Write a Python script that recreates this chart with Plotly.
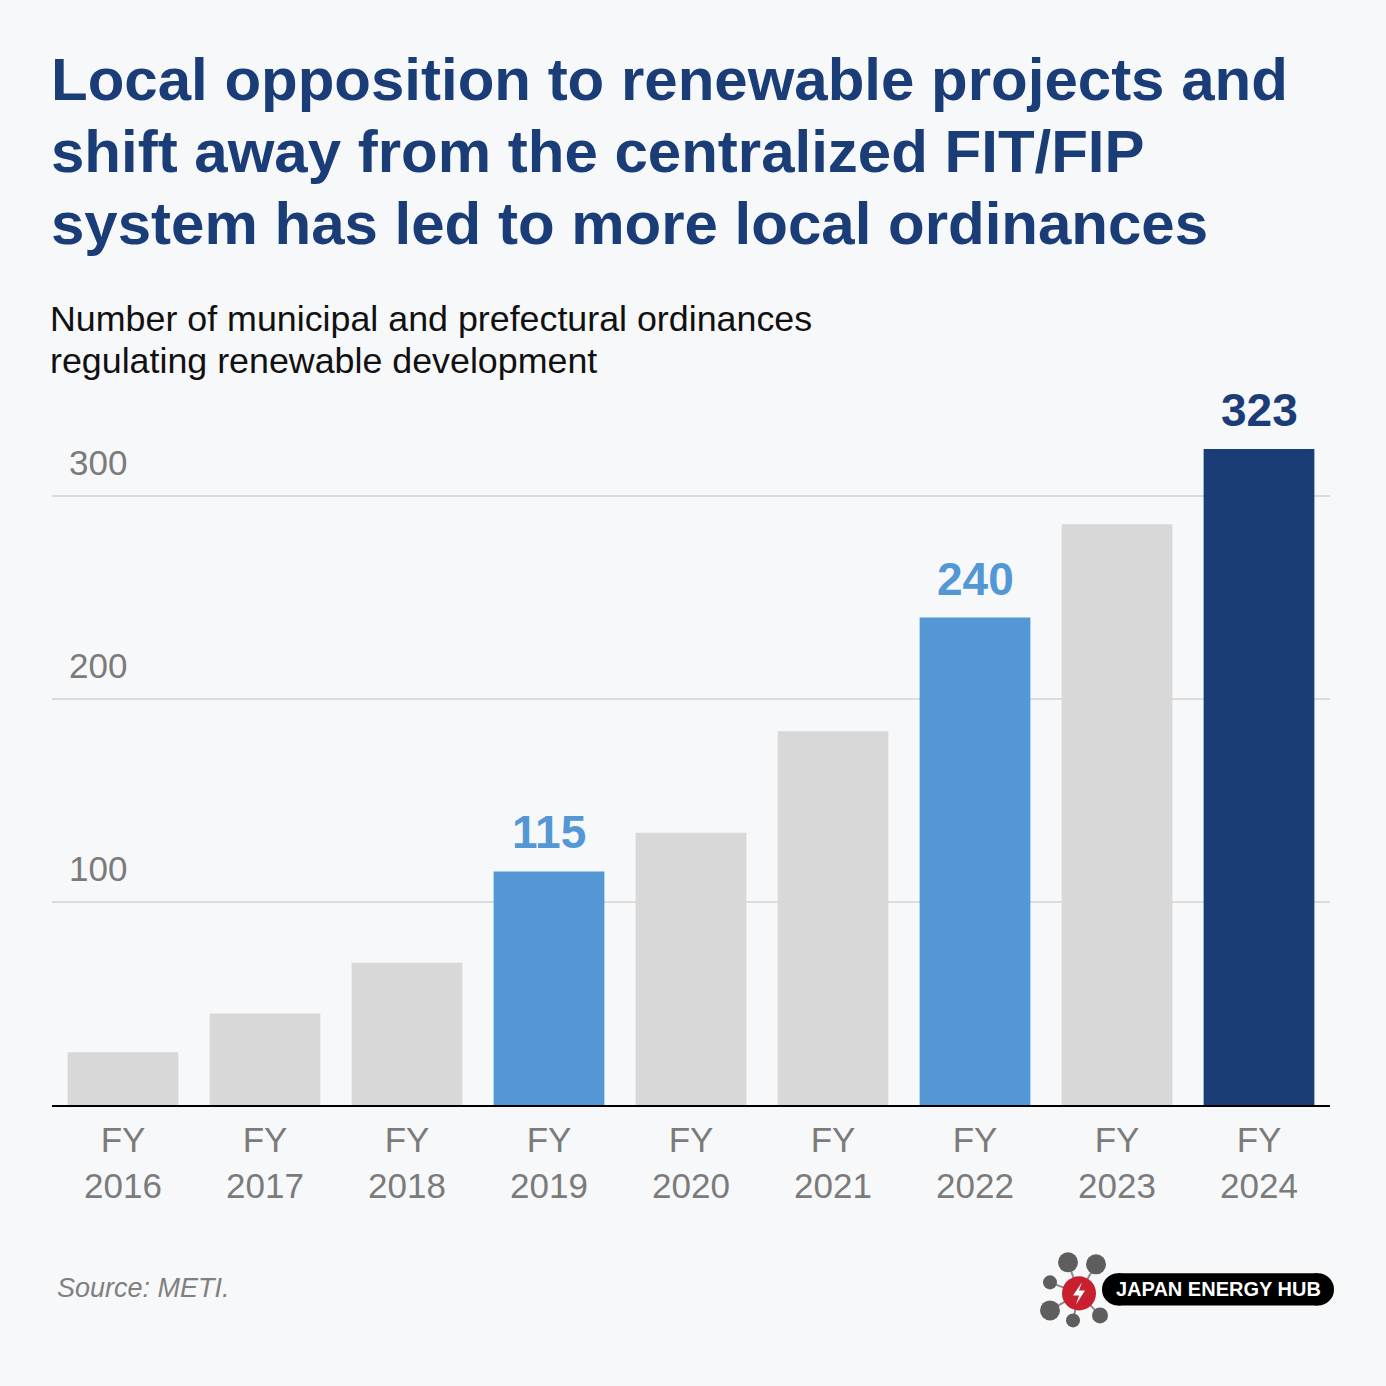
import plotly.graph_objects as go

# ---- data ----
categories = ["FY2016", "FY2017", "FY2018", "FY2019", "FY2020",
              "FY2021", "FY2022", "FY2023", "FY2024"]
tick_labels = ["FY<br>2016", "FY<br>2017", "FY<br>2018", "FY<br>2019", "FY<br>2020",
               "FY<br>2021", "FY<br>2022", "FY<br>2023", "FY<br>2024"]
ordinances = [26, 45, 70, 115, 134, 184, 240, 286, 323]
highlighted = ["FY2019", "FY2022", "FY2024"]
y_ticks = [100, 200, 300]

title_lines = ["Local opposition to renewable projects and",
               "shift away from the centralized FIT/FIP",
               "system has led to more local ordinances"]
subtitle_lines = ["Number of municipal and prefectural ordinances",
                  "regulating renewable development"]
source_text = "Source: METI."
logo_text = "JAPAN ENERGY HUB"

# ---- style ----
W, H = 1386, 1386
L, R, T, B = 52, 56, 380, 281.3
BG = "#f7f8fa"
NAVY = "#1a3d78"
LIGHT = "#5397d5"
GREY_BAR = "#d8d8d8"
TICK_GREY = "#7b7b7b"
FONT = "Liberation Sans, Arial, sans-serif"

color_map = {"FY2019": LIGHT, "FY2022": LIGHT, "FY2024": NAVY}
bar_colors = [color_map.get(c, GREY_BAR) for c in categories]


def px(x):
    return (x - L) / (W - L - R)


def py(y):
    return (H - B - y) / (H - T - B)


fig = go.Figure()
fig.add_trace(go.Bar(
    x=categories, y=ordinances,
    marker=dict(color=bar_colors, line=dict(width=0)),
    hoverinfo="x+y",
))

annotations = []
# value labels
for c, v in zip(categories, ordinances):
    if c in highlighted:
        annotations.append(dict(
            x=c, y=v, xref="x", yref="y", text=str(v), showarrow=False,
            yanchor="bottom", xanchor="center", yshift=11,
            font=dict(family=FONT, size=46, color=color_map[c], weight="bold"),
        ))

# y tick labels (sit above their gridlines)
for t in y_ticks:
    annotations.append(dict(
        x=px(67), y=t, xref="paper", yref="y", text=str(t), showarrow=False,
        xanchor="left", yanchor="middle", yshift=33,
        font=dict(family=FONT, size=35, color=TICK_GREY),
    ))

# title lines
for line, yc in zip(title_lines, [79.2, 151.2, 223.2]):
    annotations.append(dict(
        x=px(49), y=py(yc), xref="paper", yref="paper", text=line, showarrow=False,
        xanchor="left", yanchor="middle",
        font=dict(family=FONT, size=60, color=NAVY, weight="bold"),
    ))
# subtitle lines
for line, yc in zip(subtitle_lines, [319.2, 360.8]):
    annotations.append(dict(
        x=px(48), y=py(yc), xref="paper", yref="paper", text=line, showarrow=False,
        xanchor="left", yanchor="middle",
        font=dict(family=FONT, size=35.8, color="#111111"),
    ))
# source
annotations.append(dict(
    x=px(55), y=py(1287.6), xref="paper", yref="paper", text=source_text,
    showarrow=False, xanchor="left", yanchor="middle",
    font=dict(family=FONT, size=27, color="#808080", style="italic"),
))
# logo text
annotations.append(dict(
    x=px(1218), y=py(1288.5), xref="paper", yref="paper", text=logo_text,
    showarrow=False, xanchor="center", yanchor="middle",
    font=dict(family=FONT, size=20, color="white", weight="bold"),
))

# ---- logo shapes ----
shapes = []


def circle(cx, cy, r, color):
    return dict(type="circle", xref="paper", yref="paper",
                x0=px(cx - r), x1=px(cx + r), y0=py(cy + r), y1=py(cy - r),
                fillcolor=color, line=dict(width=0), layer="above")


center = (1079, 1293)
nodes = [(1068, 1262, 10), (1096, 1264, 10), (1050, 1282, 7),
         (1050, 1310, 10), (1073, 1320, 7), (1100, 1315, 8)]
for nx, ny, nr in nodes:
    shapes.append(dict(type="line", xref="paper", yref="paper",
                       x0=px(center[0]), y0=py(center[1]), x1=px(nx), y1=py(ny),
                       line=dict(color="#8a8a8a", width=2), layer="above"))
for nx, ny, nr in nodes:
    shapes.append(circle(nx, ny, nr, "#5e5e5e"))
# pill
shapes.append(dict(type="rect", xref="paper", yref="paper",
                   x0=px(1118), x1=px(1318), y0=py(1305), y1=py(1273),
                   fillcolor="black", line=dict(width=0), layer="above"))
shapes.append(circle(1118, 1289, 16, "black"))
shapes.append(circle(1318, 1289, 16, "black"))
# red hub
shapes.append(circle(center[0], center[1], 17, "#c8202f"))
bolt = [(1082, 1282), (1073, 1295), (1079, 1295), (1076, 1304),
        (1085, 1290), (1079, 1290), (1082, 1282)]
path = "M " + " L ".join(f"{px(x):.5f},{py(y):.5f}" for x, y in bolt) + " Z"
shapes.append(dict(type="path", xref="paper", yref="paper", path=path,
                   fillcolor="white", line=dict(width=0), layer="above"))

fig.update_layout(
    width=W, height=H,
    margin=dict(l=L, r=R, t=T, b=B, pad=0),
    paper_bgcolor=BG, plot_bgcolor=BG,
    showlegend=False,
    bargap=0.22,
    annotations=annotations,
    shapes=shapes,
    font=dict(family=FONT),
    xaxis=dict(
        tickmode="array", tickvals=categories, ticktext=tick_labels,
        range=[-0.5, len(categories) - 0.5],
        showgrid=False, zeroline=False,
        showline=True, linecolor="black", linewidth=2,
        ticks="", ticklabelstandoff=3,
        tickfont=dict(family=FONT, size=35, color=TICK_GREY),
        fixedrange=True,
    ),
    yaxis=dict(
        range=[0, 357], tickmode="array", tickvals=y_ticks,
        showgrid=True, gridcolor="#dcdcdc", gridwidth=2,
        zeroline=False, showline=False, ticks="",
        showticklabels=False,
        fixedrange=True,
    ),
)

fig.write_html("out.html",
               config={"displayModeBar": False},
               post_script="document.body.style.margin='0';"
                           "document.body.style.background='#f7f8fa';")
